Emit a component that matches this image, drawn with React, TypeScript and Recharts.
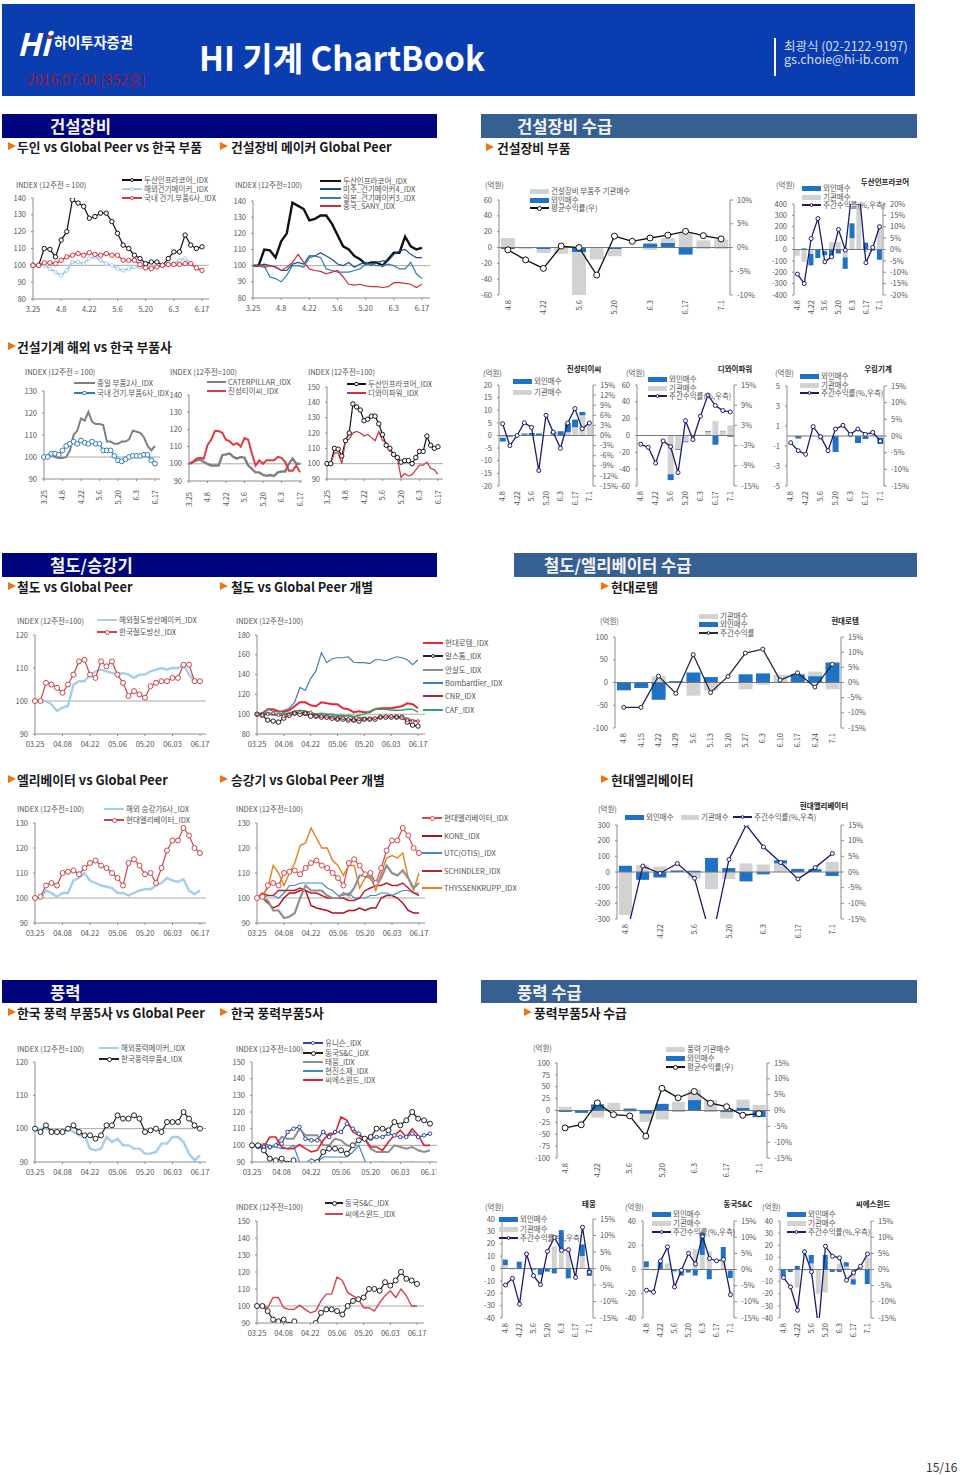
// HI 기계 ChartBook page: section bands plus small index line charts and
// 외인/기관 flow charts, placed absolutely to sit where the printed page has them.
import React from 'react'
import { Bar, ComposedChart, Line, LineChart, ReferenceLine, XAxis, YAxis } from 'recharts'

const FONT = '"Noto Sans CJK KR", "Noto Sans", sans-serif'

// tick labels
const dotDates = ['3.25', '4.8', '4.22', '5.6', '5.20', '6.3', '6.17']
const zeroDates = ['03.25', '04.08', '04.22', '05.06', '05.20', '06.03', '06.17']
const weeks = ['4.8', '4.15', '4.22', '4.29', '5.6', '5.13', '5.20', '5.27', '6.3', '6.10', '6.17', '6.24', '7.1']
const sessions = Array.from({ length: 31 }, (_, i) => i)

// index series, read every second trading day from 3.25 to 6.17
const doosan = [100, 100, 110, 109.5, 105, 115, 120, 139, 137, 135, 128, 129, 131, 131, 126, 119, 112, 110, 106, 104, 101, 102, 102, 100, 104, 108, 108, 118, 112, 110, 111]
const overseasMakers = [100, 100, 100, 98, 96, 94, 97, 102, 102, 101, 104, 105, 103, 101, 100, 98, 97, 98, 99, 99, 98, 99, 99, 100, 100, 101, 103, 104, 101, 98, 97]
const koreaParts6 = [100, 100, 101.5, 101.5, 101, 103, 105, 106, 107, 106, 107.5, 106.5, 106, 107, 106, 106, 103, 103, 103, 100.5, 98.5, 98, 99, 100, 100.5, 100.5, 100.5, 101, 101, 98.5, 97]
const usMakers4 = [100, 100, 101, 100, 99, 97, 97, 101, 102, 101, 106, 106, 108, 106, 104, 101, 100, 102, 99, 101, 102, 100, 102, 103, 103, 107, 109, 110, 107, 105, 105]
const japanMakers3 = [100, 100, 100, 93, 92, 90, 94, 100, 100, 99, 105, 106, 105, 98, 97, 96, 96, 96, 97, 98, 101, 101, 100, 100, 101, 100, 98, 98, 102, 95, 92]
const sany = [100, 100, 99, 100, 99.5, 97, 99, 102, 107, 102, 98, 97, 96.5, 95, 96, 97, 93, 88.5, 88, 88.5, 87.5, 87, 87, 86.5, 87, 89.5, 89.5, 89, 88.5, 86.5, 88.5]
const cnJpParts2 = [100, 101, 101, 100, 99.5, 99.5, 100, 103, 110, 112, 117.5, 116.5, 120.5, 116, 115, 115, 114.5, 107, 107, 106, 106, 107, 107, 108, 112, 111.5, 111, 109, 105, 103, 105]
const caterpillar = [100, 101, 102, 102.5, 101, 100, 99, 99, 99, 105, 105.5, 106, 104, 103, 104, 103.5, 99, 97, 95, 95, 93.5, 93, 93.5, 93, 95, 95.5, 95.5, 100, 103, 100, 100]
const jinsung = [100, 101, 103, 103.5, 103, 111, 114, 119, 119, 118, 114, 113, 111, 112, 110, 115, 114, 106, 99, 102, 100, 102, 102, 102, 104, 103.5, 101, 96, 96, 99, 95]
const dyPower = [100, 100, 107, 107, 100, 115, 116, 120, 121, 120, 118, 119, 117, 115, 121, 115, 114, 108, 107, 104, 91, 93.5, 92, 93, 96, 99, 99, 101, 97, 96, 93]
const overseasRail = [100, 100, 100, 99, 97, 98, 98.5, 105, 106, 106, 108, 109, 109.5, 109, 108.5, 108, 108.5, 108, 107, 108, 108, 109, 109.5, 110, 109.5, 110, 110, 111, 108, 106, 106]
const koreaRail = [100, 100, 105.5, 105, 104, 102.5, 105, 108, 112, 112.5, 108, 107, 112, 110.5, 112, 108, 105.5, 101.5, 103, 102, 101, 104.5, 105.5, 106, 106, 107, 107, 111, 111, 106, 106]
const hyundaiRotem = [100, 101, 105, 105, 103, 102.5, 104, 108, 112, 112, 109, 108, 112, 111, 110, 110, 106, 105, 102, 103, 102, 102, 105, 106, 106, 106, 107, 108, 111, 110, 106]
const alstom = [100, 99, 94, 93, 92, 96, 99, 101, 100, 101, 98, 98, 97, 97, 96, 95, 95, 94, 94, 93, 95, 95, 95, 97, 97, 97, 97, 97, 92, 89, 88]
const ansaldo = [100, 101, 100, 99, 99, 100, 100, 100, 100, 99, 98, 99, 99, 98, 98, 98, 97, 99, 98, 97, 96, 95, 96, 97, 97, 97, 97, 96, 96, 94, 93]
const bombardier = [100, 101, 105, 103, 102, 104, 106, 112, 127, 124, 136, 144, 162, 152, 156, 157, 157, 158, 152.5, 152, 152, 151, 155, 155, 154, 156, 158, 157, 155, 150, 155]
const cnr = [100, 99, 100, 101, 99, 98, 98, 101, 102, 101, 102, 98, 98, 96, 95, 95, 96, 95, 94, 95, 95, 95, 96, 97, 98, 98, 97, 96, 94, 93, 93]
const caf = [100, 101, 102, 100, 100, 101, 101, 103, 104, 103, 102, 100, 101, 100, 100, 99, 99, 98, 97, 99, 100, 103, 105, 105, 105, 104, 104, 104, 105, 105, 102]
const overseasElevator = [100, 100, 103, 102, 100.5, 102, 102, 107, 108, 110, 107, 106, 105, 104.5, 104, 102, 102, 101, 102, 103, 103.5, 103.5, 105, 106, 108, 107, 106.5, 107.5, 103, 101.5, 103]
const hyundaiElevator = [100, 100.5, 105, 106, 105, 110, 110.5, 111, 109.5, 112, 114, 115, 113, 112, 110, 108, 105, 114, 115.5, 113, 109.5, 110, 106, 112, 119, 123, 123, 128, 125, 120, 118]
const kone = [100, 100, 98, 96, 97, 100, 102, 102, 103, 103, 97, 96, 95.5, 95, 94, 94, 94, 95, 95, 96, 95, 96, 96, 100, 101, 101, 100, 98, 95, 94, 94]
const utcOtis = [100, 100, 101, 101, 100, 102, 105, 105, 106, 106, 106, 106, 106, 104, 103, 101, 101, 102, 100, 100, 100, 101, 101, 102, 102, 101, 102, 103, 103, 102, 102]
const schindler = [100, 102, 101, 101, 103, 103, 103, 103, 104, 103, 102, 102, 101, 100, 100, 100, 100, 99, 99, 100, 103, 104, 105, 105, 106, 105, 105, 106, 104, 102, 101]
const thyssen = [100, 101, 104, 113, 110, 105, 110, 114, 121, 122, 128, 124, 120, 120, 115, 113, 109, 113, 113, 104, 108, 109, 103, 110, 116, 117, 116, 118, 108, 103, 110]
const unlabelledGrey = [100, 100, 99, 95, 95, 92, 92.5, 94, 100, 105, 103, 103, 103, 101, 100, 100, 102, 101, 104, 109, 109, 108, 105, 108, 113, 110, 109, 111, 108, 104, 106]
const overseasWind = [100, 100, 100, 99.5, 99.5, 99, 100, 99, 98, 98, 94, 93.5, 94, 97.5, 96, 97, 95, 95, 94, 94, 92.5, 92.5, 93, 95.5, 95.5, 97.5, 97.5, 96, 92.5, 90.5, 92]
const koreaWind4 = [100, 99, 101, 99, 99, 99, 100, 101, 99, 98, 98, 97, 98, 101, 101, 104, 103, 103, 104, 103, 99, 99.5, 100, 99, 102, 102, 102, 105, 103, 101, 100]
const unison = [100, 99, 99, 99, 100, 101, 108, 110, 111, 104, 103, 103, 108, 105, 108, 108, 113, 110, 107, 104, 104, 105, 105, 107, 106, 105, 105, 107, 105, 106, 107]
const dongkuk = [100, 100, 97, 92, 91, 92, 89, 91, 88, 88, 88, 90, 96, 98, 98, 97, 95, 100, 103, 104, 105, 110, 110, 109, 114, 112, 115, 120, 116, 115, 113]
const taewoong = [100, 99, 100, 98, 100, 105, 104, 104, 110, 106, 106, 106, 100, 100, 104, 103, 100, 99, 104, 104, 98, 96, 96, 96, 100, 99, 98, 99, 97, 96, 97]
const hyunjin = [100, 100, 101, 100, 99, 98, 98, 100, 90, 89, 92, 90, 93, 93, 93, 93, 93, 96, 100, 91, 82, 85, 90, 84, 85, 85, 86, 90, 88, 85, 85]
const csWind = [100, 100, 99, 105, 105, 99, 98, 98, 100.5, 98, 96, 97, 103, 107, 107, 117, 115, 108, 106, 104, 99, 99, 97, 102, 106, 109, 105, 110, 106, 100, 100]

// weekly flows (억원) and returns (%)
const partsInst = [12, -1, -5, -8, -57, -15, -9, 0, -3, 6, 18, 9, 10]
const partsForeign = [-2, -1, -2, 0, -6, 0, -2, 0, 5, 6, -9, -1, -1]
const partsReturn = [-0.5, -2.6, -4.4, 0.3, 0, -5.8, 2.4, 1.3, 2, 2.6, 3.4, 2.5, 1.8]
const doosanForeign = [0, 10, -100, -75, -35, -70, -35, -100, 130, 135, 60, -10, -90]
const doosanInst = [-55, -110, -40, 0, -15, 65, 65, -70, 100, 390, -25, 20, 220]
const doosanReturn = [-10.8, -15, 4.8, 13.6, -5.4, -3.2, 8.8, -0.3, 27, 26, -5.8, 0.9, 10]
const jinsungForeign = [-1.4, -0.5, -0.2, 0.5, 1, 0.8, 0.2, 0.9, 1.7, 3.5, 3, 1.3, 0]
const jinsungInst = [-1, 0, 0, 0.3, 0, 0, 0, 0.5, 0, 1.3, 3.3, 8, 4.2]
const jinsungReturn = [3.5, -3, 0, 3.8, 2.4, -10.4, 6, 1, -3.8, 3.7, 8, 2, 3.7]
const dyForeign = [0, 0.5, 0, 0, -7, -1, -1, 0.5, 0, 1, -11, 0.5, -1.5]
const dyInst = [0, 0, 0, 0, -46, -16, -7, -1, 1, 4, 17, 5, 12]
const dyReturn = [-2.6, -3.5, -8.2, -1.6, -3.3, -11, 4.4, -1.2, 5.7, 12, 8.9, 7.4, 7]
const woolimForeign = [0, -0.25, 0, 0, 0, 0, -1.6, 0, 0.05, -0.7, -0.25, 0, -0.6]
const woolimInst = [0, 0, 0, 0, -0.4, 0, 0, 0, 0.1, 0, -0.05, 0.1, -0.2]
const woolimReturn = [-2, -4.4, -5.5, 2.8, -0.2, -4.4, 2.1, 3.2, 0.5, 2.1, 0.5, 1.1, -1.5]
const rotemForeign = [-17, -12, -38, 3, 22, 12, 0, 18, 20, 2, 18, 14, 44]
const rotemInst = [-2, 0, 14, 0, -29, -18, 0, -15, -5, 15, 2, 10, -15]
const rotemReturn = [-8.2, -8.2, 2.1, -3.6, 9.2, -3.3, 2, 9.7, 11, 0.8, 3.2, -1.5, 6]
const elevForeign = [40, -50, -35, 10, 8, 90, 25, -60, -15, 20, 20, 18, -25]
const elevInst = [-275, 45, 35, 0, -40, -110, -45, 55, 48, 55, -5, 0, 65]
const elevReturn = [-21.3, 1.9, -0.4, 2.7, -2, -22, 4, 15, 8, 3, -2.2, 1.4, 5.9]
const windForeign = [-3, -5, 13, 0, 4, -7, 14, -2, 22, -2, -4, 6, -14]
const windInst = [8, 0, -15, 16, -3, -17, -19, 18, 21, 22, -13, 17, 12]
const windReturn = [-5.5, -4.5, 2.4, -1.3, -1.7, -8.1, 7, 4, 6, 2.3, 1.2, -1.5, -1]
const taewoongForeign = [4.5, 0, 5.5, 0, -1, -5, -2.5, -4, 16, -8, 0, 9.5, -5]
const taewoongInst = [2.7, -1, -1, 0, 0, 0, 0, 18, 15, 15, -1, 10, -1]
const taewoongReturn = [-5, -3, -10.8, 4.4, -2.2, -4.9, 5.2, 9.4, 5.5, 5.7, -2.7, 12.5, -1.1]
const dongkukForeign = [4.7, 0, 6, 0, -1.5, -5, -2.5, -5, 18.7, -8, 0, 9.6, -6]
const dongkukInst = [2, -1, 0, 5, 0, 0, 0, 17, 12, 15, -1, 9, -1]
const dongkukReturn = [-6.4, -7, 2.6, 7, -5.4, -0.2, 5, 1.7, 10.3, 3.4, 2.7, 3.1, -7.8]
const csForeign = [-6, -2, 3, 0, 7, 0, 12, -2, -2, 3.5, -4.4, 0, -12]
const csInst = [0, 0, -15, -1, 5, -20, -19, 0, 5, 2.5, -8, 1, 10]
const csReturn = [-2.5, -5.4, -12.6, 5.5, -0.7, -18, 7.2, 4.1, 3.6, -3.3, -1, 1, 4.8]

const GREY_AXIS = '#8c8c8c'
const BLUE = '#1f72c4'
const LIGHT = '#d2d2d2'
const NAVY = '#1c1c6e'

const tickStyle = { fontSize: 7.5, fill: '#555', fontFamily: FONT }

function Txt({ x, y, size = 7.5, color = '#555', bold = false, center = false, children }: any) {
  return (
    <div
      style={{
        position: 'absolute',
        left: x,
        top: y,
        transform: `translate(${center ? '-50%' : '0'}, -50%)`,
        fontSize: size,
        lineHeight: 1,
        color,
        fontWeight: bold ? 700 : 400,
        whiteSpace: 'nowrap',
      }}
    >
      {children}
    </div>
  )
}

function Band({ x, y, w, h = 24, color, tx, label }: any) {
  return (
    <>
      <div style={{ position: 'absolute', left: x, top: y, width: w, height: h, background: color }} />
      <Txt x={tx} y={y + h / 2} size={16.6} color="#f4f4f4" bold>{label}</Txt>
    </>
  )
}

function Sub({ x, tx, y, label }: any) {
  return (
    <>
      <div
        style={{
          position: 'absolute',
          left: x,
          top: y - 5,
          width: 0,
          height: 0,
          borderLeft: '8px solid #ec7414',
          borderTop: '4.5px solid transparent',
          borderBottom: '4.5px solid transparent',
        }}
      />
      <Txt x={tx} y={y} size={12.8} color="#1a1a1a" bold>{label}</Txt>
    </>
  )
}

// one legend row: a swatch (bar, or line with optional open dot) and its label
function KeyRow({ x, y, w, label, color, bar = false, width = 1.2, dot = 0 }: any) {
  return (
    <>
      <div
        style={{
          position: 'absolute',
          left: x,
          top: y - (bar ? 2.5 : width / 2),
          width: w,
          height: bar ? 5 : width,
          background: color,
        }}
      />
      {dot > 0 && (
        <div
          style={{
            position: 'absolute',
            left: x + w / 2 - dot,
            top: y - dot,
            width: dot * 2,
            height: dot * 2,
            boxSizing: 'border-box',
            borderRadius: '50%',
            background: '#fff',
            border: `1px solid ${color}`,
          }}
        />
      )}
      <Txt x={x + w + 2} y={y}>{label}</Txt>
    </>
  )
}

function RotTick({ x, y, payload, off, format }: any) {
  const label = format ? format(payload.value) : payload.value
  return (
    <text transform={`translate(${x},${y + off}) rotate(-90)`} textAnchor="end" dy="0.35em" {...tickStyle}>
      {label}
    </text>
  )
}

type Series = { name: string; values: number[]; color: string; width?: number; dot?: number; noKey?: boolean }

// index line chart; left/top/bottom/right are the plot edges on the page, last is where 6.17 falls
function IndexChart({ left, top, bottom, right, last, yTicks, dates, rotate = false, pad = 14, series, keyX, keyW, keyYs, indexX, indexY, indexLabel = 'INDEX (12주전=100)' }: any) {
  const rows = sessions.map((i) => {
    const row: any = { i }
    series.forEach((s: Series) => { row[s.name] = s.values[i] })
    return row
  })
  const yAxisW = 24
  const xAxisH = rotate ? 32 : 20
  const x0 = left - yAxisW
  const y0 = top - 6
  const format = (v: number) => dates[v / 5]
  const keyed = series.filter((s: Series) => !s.noKey)
  return (
    <>
      <div style={{ position: 'absolute', left: x0, top: y0 }}>
        <LineChart width={right + pad - x0} height={bottom + xAxisH - y0} data={rows} margin={{ top: 6, right: pad, left: 0, bottom: 0 }}>
          <XAxis
            dataKey="i"
            type="number"
            domain={[0, 30]}
            ticks={[0, 5, 10, 15, 20, 25, 30]}
            padding={{ left: 0, right: right - last }}
            height={xAxisH}
            interval={0}
            stroke={GREY_AXIS}
            tickSize={2}
            tickMargin={rotate ? 2 : 6}
            tick={rotate ? (p: any) => <RotTick {...p} off={7} format={format} /> : tickStyle}
            tickFormatter={format}
          />
          <YAxis
            width={yAxisW}
            domain={[yTicks[0], yTicks[yTicks.length - 1]]}
            ticks={yTicks}
            interval={0}
            allowDataOverflow
            stroke={GREY_AXIS}
            tickSize={2}
            tickMargin={5}
            tick={tickStyle}
          />
          <ReferenceLine y={100} stroke="#a8a8a8" strokeWidth={1} />
          {series.map((s: Series) => (
            <Line
              key={s.name}
              dataKey={s.name}
              type="linear"
              stroke={s.color}
              strokeWidth={s.width ?? 1.2}
              dot={s.dot ? { r: s.dot, fill: '#fff', stroke: s.color, strokeWidth: 1 } : false}
              isAnimationActive={false}
            />
          ))}
        </LineChart>
      </div>
      <Txt x={indexX} y={indexY}>{indexLabel}</Txt>
      {keyed.map((s: Series, k: number) => (
        <KeyRow key={s.name} x={keyX} y={keyYs[k]} w={keyW} label={s.name} color={s.color} width={s.width ?? 1.2} dot={s.dot ?? 0} />
      ))}
    </>
  )
}

// weekly flow chart: stacked 외인/기관 bars on the left axis, return line on the right axis
function FlowChart({ left, top, bottom, right, yTicks, rTicks, foreign, inst, ret, blueFirst = false, interval = 1, lineColor = NAVY, dotR = 2, keys, title, titleX, titleY, unitX, unitY }: any) {
  const rows = weeks.map((week, i) => ({ week, foreign: foreign[i], inst: inst[i], ret: ret[i] }))
  const yAxisW = 24
  const rAxisW = 30
  const xAxisH = 32
  const x0 = left - yAxisW
  const y0 = top - 6
  const foreignBar = <Bar key="f" yAxisId="l" dataKey="foreign" stackId="flow" fill={BLUE} isAnimationActive={false} />
  const instBar = <Bar key="n" yAxisId="l" dataKey="inst" stackId="flow" fill={LIGHT} isAnimationActive={false} />
  return (
    <>
      <div style={{ position: 'absolute', left: x0, top: y0 }}>
        <ComposedChart
          width={right + rAxisW - x0}
          height={bottom + xAxisH - y0}
          data={rows}
          stackOffset="sign"
          barCategoryGap="11%"
          margin={{ top: 6, right: 0, left: 0, bottom: 0 }}
        >
          <XAxis
            dataKey="week"
            height={xAxisH}
            interval={interval}
            axisLine={false}
            tickLine={false}
            tick={(p: any) => <RotTick {...p} off={-3} />}
          />
          <YAxis
            yAxisId="l"
            width={yAxisW}
            domain={[yTicks[0], yTicks[yTicks.length - 1]]}
            ticks={yTicks}
            interval={0}
            allowDataOverflow
            stroke={GREY_AXIS}
            tickSize={2}
            tickMargin={5}
            tick={tickStyle}
          />
          <YAxis
            yAxisId="r"
            orientation="right"
            width={rAxisW}
            domain={[rTicks[0], rTicks[rTicks.length - 1]]}
            ticks={rTicks}
            interval={0}
            allowDataOverflow
            stroke={GREY_AXIS}
            tickSize={3}
            tickMargin={4}
            tick={tickStyle}
            tickFormatter={(v: number) => `${v}%`}
          />
          {blueFirst ? [foreignBar, instBar] : [instBar, foreignBar]}
          <ReferenceLine yAxisId="l" y={0} stroke="#777" strokeWidth={1} />
          <Line
            yAxisId="r"
            dataKey="ret"
            type="linear"
            stroke={lineColor}
            strokeWidth={1.3}
            dot={{ r: dotR, fill: '#fff', stroke: lineColor, strokeWidth: 1 }}
            isAnimationActive={false}
          />
        </ComposedChart>
      </div>
      <Txt x={unitX} y={unitY}>(억원)</Txt>
      {title && <Txt x={titleX} y={titleY} size={7.5} color="#222" bold center>{title}</Txt>}
      {keys.map((k: any) => (
        <KeyRow
          key={k.label}
          x={k.x}
          y={k.y}
          w={k.w ?? 19}
          label={k.label}
          color={k.kind === 'f' ? BLUE : k.kind === 'n' ? LIGHT : lineColor}
          bar={k.kind !== 'l'}
          dot={k.kind === 'l' ? (dotR > 2 ? 2.5 : 1.8) : 0}
        />
      ))}
    </>
  )
}

const stack = (x: number, ys: number[], labels: string[][]) =>
  labels.map(([kind, label], i) => ({ kind, label, x, y: ys[i] }))

const triple: string[][] = [['f', '외인매수'], ['n', '기관매수'], ['l', '주간수익률(%,우측)']]

const doosanS = { name: '두산인프라코어_IDX', values: doosan, color: '#111', dot: 2.2 }
const parts6Red = { name: '국내 건기.부품6사_IDX', values: koreaParts6, color: '#d8363c', width: 1.4, dot: 2.2 }
const pct15 = [-15, -10, -5, 0, 5, 10, 15]

export default function App() {
  return (
    <div style={{ position: 'absolute', left: 0, top: 0, width: 960, height: 1475, background: '#fff', overflow: 'hidden', fontFamily: FONT }}>
      {/* banner */}
      <div style={{ position: 'absolute', left: 2, top: 4, width: 913, height: 92, background: '#0a3db0' }} />
      <Txt x={17} y={42} size={31} color="#fff" bold><i>Hi</i></Txt>
      <div style={{ position: 'absolute', left: 47, top: 35, width: 4, height: 4, borderRadius: 2, background: '#e0203a' }} />
      <Txt x={54} y={42} size={14.3} color="#fff" bold>하이투자증권</Txt>
      <Txt x={27} y={79} size={14} color="#9c1a3c">2016.07.04 [352호]</Txt>
      <Txt x={199} y={57} size={33} color="#fff" bold>HI 기계 ChartBook</Txt>
      <div style={{ position: 'absolute', left: 774, top: 38, width: 2, height: 38, background: '#fff' }} />
      <Txt x={784} y={46} size={12.5} color="#d5def2">최광식 (02-2122-9197)</Txt>
      <Txt x={784} y={59} size={12.5} color="#d5def2">gs.choie@hi-ib.com</Txt>

      {/* 건설장비 */}
      <Band x={2} y={114} w={435} color="#00047c" tx={50} label="건설장비" />
      <Band x={481} y={114} w={436} color="#376092" tx={517} label="건설장비 수급" />
      <Sub x={8} tx={17} y={147} label="두인 vs Global Peer vs 한국 부품" />
      <Sub x={220} tx={231} y={147} label="건설장비 메이커 Global Peer" />
      <Sub x={486} tx={497} y={148} label="건설장비 부품" />

      <IndexChart
        left={33} top={198} bottom={299} right={209} last={202}
        yTicks={[80, 90, 100, 110, 120, 130, 140]} dates={dotDates}
        indexX={16} indexY={185} indexLabel="INDEX (12주전 = 100)"
        keyX={122} keyW={20} keyYs={[180, 189, 198]}
        series={[
          doosanS,
          { name: '해외건기메이커_IDX', values: overseasMakers, color: '#a5cdec', width: 2, dot: 1.8 },
          parts6Red,
        ]}
      />
      <IndexChart
        left={253} top={201} bottom={298} right={430} last={422}
        yTicks={[80, 90, 100, 110, 120, 130, 140]} dates={dotDates}
        indexX={235} indexY={185}
        keyX={320} keyW={21} keyYs={[181, 189, 198, 206]}
        series={[
          { name: '두산인프라코어_IDX', values: doosan, color: '#111', width: 2.4 },
          { name: '미주_건기메이커4_IDX', values: usMakers4, color: '#1f4e8c' },
          { name: '일본_건기메이커3_IDX', values: japanMakers3, color: '#2f7fb8' },
          { name: '중국_SANY_IDX', values: sany, color: '#c8323c' },
        ]}
      />
      <FlowChart
        left={499} top={200} bottom={295} right={730}
        yTicks={[-60, -40, -20, 0, 20, 40, 60]} rTicks={[-10, -5, 0, 5, 10]}
        foreign={partsForeign} inst={partsInst} ret={partsReturn}
        blueFirst lineColor="#111" dotR={3}
        unitX={485} unitY={185}
        keys={stack(530, [191, 200, 208], [['n', '건설장비 부품주 기관매수'], ['f', '외인매수'], ['l', '평균수익률(우)']])}
      />
      <FlowChart
        left={794} top={204} bottom={295} right={883}
        yTicks={[-400, -300, -200, -100, 0, 100, 200, 300, 400]} rTicks={[-20, -15, -10, -5, 0, 5, 10, 15, 20]}
        foreign={doosanForeign} inst={doosanInst} ret={doosanReturn}
        title="두산인프라코어" titleX={885} titleY={182}
        unitX={776} unitY={185}
        keys={stack(802, [188, 197, 205], triple)}
      />

      {/* 건설기계 해외 vs 한국 */}
      <Sub x={8} tx={17} y={347} label="건설기계 해외 vs 한국 부품사" />
      <IndexChart
        left={44} top={391} bottom={479} right={160} last={155} rotate pad={8}
        yTicks={[90, 100, 110, 120, 130]} dates={dotDates}
        indexX={25} indexY={372} indexLabel="INDEX (12주전 = 100)"
        keyX={74} keyW={21} keyYs={[383, 393]}
        series={[
          { name: '중일 부품2사_IDX', values: cnJpParts2, color: '#7f7f7f', width: 2 },
          { name: '국내 건기.부품6사_IDX', values: koreaParts6, color: '#2e7dbe', dot: 2.4 },
        ]}
      />
      <IndexChart
        left={189} top={395} bottom={481} right={302} last={300} rotate pad={6}
        yTicks={[90, 100, 110, 120, 130, 140]} dates={dotDates}
        indexX={170} indexY={372}
        keyX={207} keyW={19} keyYs={[382, 391]}
        series={[
          { name: 'CATERPILLAR_IDX', values: caterpillar, color: '#7f7f7f', width: 2.4 },
          { name: '진성티이씨_IDX', values: jinsung, color: '#e03a40', width: 2 },
        ]}
      />
      <IndexChart
        left={327} top={387} bottom={479} right={443} last={438} rotate pad={6}
        yTicks={[90, 100, 110, 120, 130, 140, 150]} dates={dotDates}
        indexX={308} indexY={372}
        keyX={347} keyW={19} keyYs={[384, 393]}
        series={[
          doosanS,
          { name: '디와이파워_IDX', values: dyPower, color: '#cf3038' },
        ]}
      />
      <FlowChart
        left={499} top={385} bottom={486} right={593}
        yTicks={[-20, -15, -10, -5, 0, 5, 10, 15, 20]} rTicks={[-15, -12, -9, -6, -3, 0, 3, 6, 9, 12, 15]}
        foreign={jinsungForeign} inst={jinsungInst} ret={jinsungReturn}
        title="진성티이씨" titleX={584} titleY={369}
        unitX={483} unitY={373}
        keys={stack(513, [381, 392], triple.slice(0, 2))}
      />
      <FlowChart
        left={637} top={385} bottom={486} right={734}
        yTicks={[-60, -40, -20, 0, 20, 40, 60]} rTicks={[-15, -9, -3, 3, 9, 15]}
        foreign={dyForeign} inst={dyInst} ret={dyReturn}
        title="디와이파워" titleX={735} titleY={369}
        unitX={626} unitY={373}
        keys={stack(648, [379, 388, 396], triple)}
      />
      <FlowChart
        left={787} top={386} bottom={486} right={884}
        yTicks={[-5, -3, -1, 1, 3, 5]} rTicks={pct15}
        foreign={woolimForeign} inst={woolimInst} ret={woolimReturn}
        title="우림기계" titleX={878} titleY={369}
        unitX={775} unitY={373}
        keys={stack(800, [376, 385, 393], triple)}
      />

      {/* 철도/승강기 */}
      <Band x={2} y={553} w={435} color="#00047c" tx={50} label="철도/승강기" />
      <Band x={514} y={553} w={403} color="#376092" tx={544} label="철도/엘리베이터 수급" />
      <Sub x={8} tx={17} y={587} label="철도 vs Global Peer" />
      <Sub x={220} tx={231} y={587} label="철도 vs Global Peer 개별" />
      <Sub x={601} tx={611} y={587} label="현대로템" />
      <IndexChart
        left={35} top={635} bottom={734} right={206} last={200}
        yTicks={[90, 100, 110, 120]} dates={zeroDates}
        indexX={17} indexY={621}
        keyX={97} keyW={20} keyYs={[620, 632]}
        series={[
          { name: '해외철도방산메이커_IDX', values: overseasRail, color: '#a5cdec', width: 2.4 },
          { name: '한국철도방산_IDX', values: koreaRail, color: '#c8464c', dot: 2.5 },
        ]}
      />
      <IndexChart
        left={257} top={635} bottom={734} right={425} last={418}
        yTicks={[80, 100, 120, 140, 160, 180]} dates={zeroDates}
        indexX={236} indexY={621}
        keyX={423} keyW={20} keyYs={[643, 656, 670, 683, 696, 710]}
        series={[
          { name: '현대로템_IDX', values: hyundaiRotem, color: '#e42a30', width: 2 },
          { name: '알스톰_IDX', values: alstom, color: '#222', dot: 2.2 },
          { name: '안살도_IDX', values: ansaldo, color: '#8a8a8a', width: 1.6 },
          { name: 'Bombardier_IDX', values: bombardier, color: '#3f7fb5' },
          { name: 'CNR_IDX', values: cnr, color: '#a82a34', dot: 1.4 },
          { name: 'CAF_IDX', values: caf, color: '#2fa36b', width: 1.4 },
        ]}
      />
      <FlowChart
        left={615} top={637} bottom={728} right={841}
        yTicks={[-100, -50, 0, 50, 100]} rTicks={pct15}
        foreign={rotemForeign} inst={rotemInst} ret={rotemReturn}
        blueFirst interval={0} lineColor="#1e2a44"
        title="현대로템" titleX={845} titleY={621}
        unitX={600} unitY={621}
        keys={stack(699, [616, 624, 633], [['n', '기관매수'], ['f', '외인매수'], ['l', '주간수익률']])}
      />

      <Sub x={8} tx={17} y={780} label="엘리베이터 vs Global Peer" />
      <Sub x={220} tx={231} y={780} label="승강기 vs Global Peer 개별" />
      <Sub x={601} tx={611} y={780} label="현대엘리베이터" />
      <IndexChart
        left={35} top={823} bottom={923} right={206} last={200}
        yTicks={[90, 100, 110, 120, 130]} dates={zeroDates}
        indexX={17} indexY={809}
        keyX={104} keyW={20} keyYs={[809, 820]}
        series={[
          { name: '해외 승강기6사_IDX', values: overseasElevator, color: '#a5cdec', width: 2.4 },
          { name: '현대엘리베이터_IDX', values: hyundaiElevator, color: '#c8464c', dot: 2.5 },
        ]}
      />
      <IndexChart
        left={257} top={823} bottom={923} right={425} last={419}
        yTicks={[90, 100, 110, 120, 130]} dates={zeroDates}
        indexX={236} indexY={809}
        keyX={422} keyW={20} keyYs={[818, 836, 853, 871, 888]}
        series={[
          { name: '현대엘리베이터_IDX', values: hyundaiElevator, color: '#d8484c', dot: 2.5 },
          { name: 'KONE_IDX', values: kone, color: '#b0101c', width: 1.4 },
          { name: 'UTC(OTIS)_IDX', values: utcOtis, color: '#3f8ac4' },
          { name: 'SCHINDLER_IDX', values: schindler, color: '#b5202c', width: 1.4 },
          { name: 'THYSSENKRUPP_IDX', values: thyssen, color: '#e4811e', width: 1.4 },
          { name: 'unlabelled', values: unlabelledGrey, color: '#909090', width: 2.2, noKey: true },
        ]}
      />
      <FlowChart
        left={617} top={825} bottom={919} right={841}
        yTicks={[-300, -200, -100, 0, 100, 200, 300]} rTicks={pct15}
        foreign={elevForeign} inst={elevInst} ret={elevReturn}
        title="현대엘리베이터" titleX={824} titleY={806}
        unitX={598} unitY={809}
        keys={[
          { kind: 'f', label: '외인매수', x: 625, y: 817 },
          { kind: 'n', label: '기관매수', x: 681, y: 817, w: 18 },
          { kind: 'l', label: '주간수익률(%,우측)', x: 733, y: 817 },
        ]}
      />

      {/* 풍력 */}
      <Band x={2} y={980} w={435} h={23} color="#00047c" tx={50} label="풍력" />
      <Band x={481} y={980} w={436} h={23} color="#376092" tx={517} label="풍력 수급" />
      <Sub x={8} tx={17} y={1013} label="한국 풍력 부품5사 vs Global Peer" />
      <Sub x={220} tx={231} y={1013} label="한국 풍력부품5사" />
      <Sub x={524} tx={534} y={1013} label="풍력부품5사 수급" />
      <IndexChart
        left={35} top={1062} bottom={1162} right={206} last={200}
        yTicks={[90, 100, 110, 120]} dates={zeroDates}
        indexX={17} indexY={1049}
        keyX={99} keyW={20} keyYs={[1048, 1059]}
        series={[
          { name: '해외풍력메이커_IDX', values: overseasWind, color: '#a5cdec', width: 2.4 },
          { name: '한국풍력부품4_IDX', values: koreaWind4, color: '#222', dot: 2.5 },
        ]}
      />
      <IndexChart
        left={252} top={1062} bottom={1162} right={437} last={430} pad={0}
        yTicks={[90, 100, 110, 120, 130, 140, 150]} dates={zeroDates}
        indexX={236} indexY={1049}
        keyX={303} keyW={20} keyYs={[1043, 1053, 1062, 1071, 1080]}
        series={[
          { name: '유니슨_IDX', values: unison, color: '#2a4aa0', dot: 1.8 },
          { name: '동국S&C_IDX', values: dongkuk, color: '#222', dot: 2.5 },
          { name: '태웅_IDX', values: taewoong, color: '#8f8f8f', width: 2 },
          { name: '현진소재_IDX', values: hyunjin, color: '#3a8ac4' },
          { name: '씨에스윈드_IDX', values: csWind, color: '#e0202c', width: 1.6 },
        ]}
      />
      <FlowChart
        left={557} top={1063} bottom={1158} right={767}
        yTicks={[-100, -75, -50, -25, 0, 25, 50, 75, 100]} rTicks={pct15}
        foreign={windForeign} inst={windInst} ret={windReturn}
        blueFirst lineColor="#111" dotR={3}
        unitX={533} unitY={1048}
        keys={stack(666, [1049, 1058, 1067], [['n', '풍력 기관매수'], ['f', '외인매수'], ['l', '평균수익률(우)']])}
      />
      <IndexChart
        left={257} top={1221} bottom={1323} right={424} last={417}
        yTicks={[90, 100, 110, 120, 130, 140, 150]} dates={zeroDates}
        indexX={236} indexY={1207}
        keyX={325} keyW={18} keyYs={[1203, 1214]}
        series={[
          { name: '동국S&C_IDX', values: dongkuk, color: '#222', dot: 2.5 },
          { name: '씨에스윈드_IDX', values: csWind, color: '#d8404a', width: 1.4 },
        ]}
      />
      <FlowChart
        left={502} top={1219} bottom={1318} right={593}
        yTicks={[-40, -30, -20, -10, 0, 10, 20, 30, 40]} rTicks={pct15}
        foreign={taewoongForeign} inst={taewoongInst} ret={taewoongReturn}
        title="태웅" titleX={589} titleY={1204}
        unitX={485} unitY={1207}
        keys={stack(499, [1219, 1229, 1238], triple)}
      />
      <FlowChart
        left={643} top={1221} bottom={1318} right={734}
        yTicks={[-40, -20, 0, 20, 40]} rTicks={pct15}
        foreign={dongkukForeign} inst={dongkukInst} ret={dongkukReturn}
        title="동국S&C" titleX={738} titleY={1204}
        unitX={625} unitY={1207}
        keys={stack(652, [1214, 1223, 1232], triple)}
      />
      <FlowChart
        left={780} top={1221} bottom={1318} right={871}
        yTicks={[-40, -30, -20, -10, 0, 10, 20, 30, 40]} rTicks={pct15}
        foreign={csForeign} inst={csInst} ret={csReturn}
        title="씨에스윈드" titleX={873} titleY={1204}
        unitX={762} unitY={1207}
        keys={stack(787, [1214, 1223, 1232], triple)}
      />

      <Txt x={926} y={1467} size={12} color="#333">15/16</Txt>
    </div>
  )
}
